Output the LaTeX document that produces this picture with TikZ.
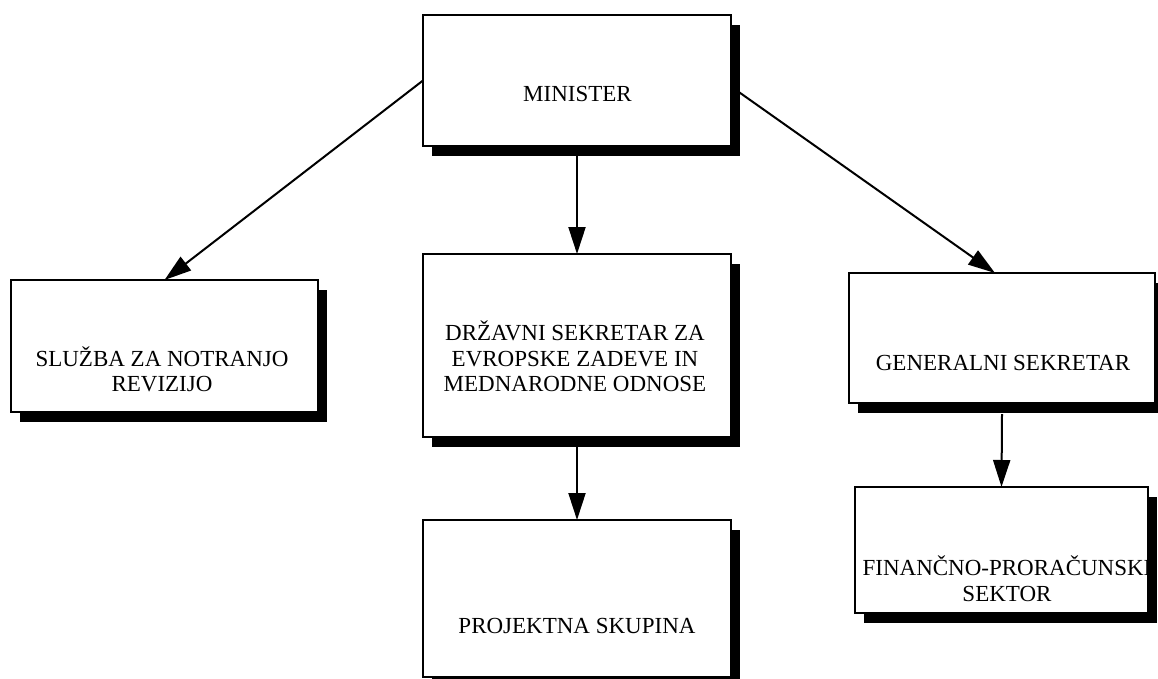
\documentclass[tikz,border=0pt]{standalone}
\usepackage{fontspec}
\setmainfont{Liberation Serif}
\usetikzlibrary{arrows.meta,shadows}

\tikzset{
  unit/.style={draw=black, line width=1.7pt, fill=white, inner sep=0pt, outer sep=0pt,
    drop shadow={shadow xshift=9pt, shadow yshift=-10pt, opacity=1, fill=black}},
  caption/.style={font=\fontsize{23}{25.5}\selectfont, align=center, inner sep=0pt, anchor=base},
  link/.style={line width=2pt, -{Triangle[length=27pt, width=17pt]}}
}

\begin{document}
\begin{tikzpicture}[x=1pt, y=-1pt]
\useasboundingbox (0,0) rectangle (1158,678);

% organisational units
\node[unit, minimum width=308pt, minimum height=131pt] (min)  at (577,80.5)   {};
\node[unit, minimum width=307pt, minimum height=132pt] (sluz) at (164.5,346)  {};
\node[unit, minimum width=308pt, minimum height=183pt] (drz)  at (577,345.5)  {};
\node[unit, minimum width=308pt, minimum height=157pt] (proj) at (577,598.5)  {};
\node[unit, minimum width=306pt, minimum height=130pt] (gen)  at (1002,338)   {};
\node[unit, minimum width=293pt, minimum height=126pt] (fin)  at (1001.5,550) {};

% unit names (base anchor sits on the last line)
\node[caption] (tmin)  at (577.5,101)  {MINISTER};
\node[caption] (tsluz) at (162,391.7)  {SLUŽBA ZA NOTRANJO\\REVIZIJO};
\node[caption] (tdrz)  at (575,391.7)  {DRŽAVNI SEKRETAR ZA\\EVROPSKE ZADEVE IN\\MEDNARODNE ODNOSE};
\node[caption] (tproj) at (577,633)    {PROJEKTNA SKUPINA};
\node[caption] (tgen)  at (1003,370)   {GENERALNI SEKRETAR};
\node[caption] (tfin)  at (1007,601)   {FINANČNO-PRORAČUNSKI\\SEKTOR};

% reporting lines
\draw[link] (min.west) -- (sluz.north);
\draw[link] ([yshift=-6pt]min.east) -- ([xshift=-7pt]gen.north);
\draw[link] ([yshift=-10pt]min.south) -- (drz.north);
\draw[link] ([yshift=-10pt]drz.south) -- (proj.north);
\draw[link] ([yshift=-11pt]gen.south) -- (fin.north);
\end{tikzpicture}
\end{document}
